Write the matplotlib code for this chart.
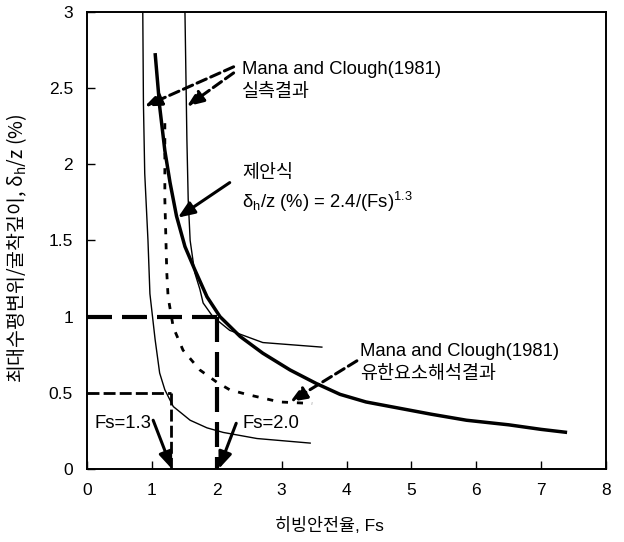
import matplotlib
matplotlib.use("Agg")
import matplotlib.pyplot as plt

plt.rcParams['font.family'] = ['Liberation Sans', 'Noto Sans CJK KR']
plt.rcParams['mathtext.default'] = 'regular'

# proposed relation, thick solid curve
fs_prop = [1.05, 1.12, 1.20, 1.28, 1.38, 1.51, 1.66, 1.85, 2.05, 2.36, 2.71,
           3.13, 3.54, 3.90, 4.30, 4.80, 5.30, 5.85, 6.50, 7.00, 7.40]
dh_prop = [2.73, 2.38, 2.09, 1.88, 1.66, 1.46, 1.31, 1.13, 1.00, 0.87, 0.76,
           0.65, 0.56, 0.49, 0.44, 0.40, 0.36, 0.32, 0.29, 0.26, 0.24]

# measured envelope (Mana and Clough 1981), lower and upper bound
fs_meas_lo = [0.86, 0.87, 0.89, 0.94, 0.97, 1.05, 1.12, 1.20, 1.33, 1.59,
              1.85, 2.10, 2.62, 3.44]
dh_meas_lo = [3.00, 2.40, 1.94, 1.50, 1.15, 0.85, 0.63, 0.52, 0.41, 0.32,
              0.27, 0.24, 0.20, 0.17]
fs_meas_hi = [1.51, 1.54, 1.56, 1.59, 1.66, 1.74, 1.79, 1.94, 2.20, 2.71, 3.62]
dh_meas_hi = [3.00, 2.16, 1.77, 1.50, 1.29, 1.18, 1.09, 1.00, 0.91, 0.83, 0.80]

# finite element result (Mana and Clough 1981)
fs_fem = [1.20, 1.20, 1.23, 1.25, 1.33, 1.48, 1.74, 2.00, 2.20, 2.46, 2.97, 3.47]
dh_fem = [2.27, 1.77, 1.29, 1.13, 0.93, 0.78, 0.65, 0.57, 0.52, 0.49, 0.44, 0.43]

# reference lines
fs_a, dh_a = 1.3, 0.5
fs_b, dh_b = 2.0, 1.0

x_ticks = [0, 1, 2, 3, 4, 5, 6, 7, 8]
y_ticks = [0, 0.5, 1, 1.5, 2, 2.5, 3]
y_tick_labels = ['0', '0.5', '1', '1.5', '2', '2.5', '3']

fig = plt.figure(figsize=(6.24, 5.42), dpi=100)
ax = fig.add_axes([0.1394, 0.1347, 0.8318, 0.8432])

ax.plot(fs_meas_lo, dh_meas_lo, color='black', lw=1.0)
ax.plot(fs_meas_hi, dh_meas_hi, color='black', lw=1.0)
ax.plot(fs_fem, dh_fem, color='black', lw=2.0, ls=(0, (2.2, 3.2)))
ax.plot(fs_prop, dh_prop, color='black', lw=2.5, solid_capstyle='butt',
        solid_joinstyle='round')

ax.plot([0, fs_b], [dh_b, dh_b], color='black', lw=3.0, ls=(0, (6, 2.4)))
ax.plot([fs_b, fs_b], [dh_b, 0], color='black', lw=3.0, ls=(0, (6, 2.4)))
ax.plot([0, fs_a], [dh_a, dh_a], color='black', lw=2.0, ls=(0, (4.3, 1.5)))
ax.plot([fs_a, fs_a], [dh_a, 0], color='black', lw=2.0, ls=(0, (4.3, 1.5)))

solid_arrow = dict(arrowstyle='-|>,head_length=0.5,head_width=0.2',
                   color='black', lw=2.2, mutation_scale=20,
                   shrinkA=0, shrinkB=0)
dashed_arrow = dict(solid_arrow, ls=(0, (3.3, 1.6)))

ax.annotate('', xy=(0.89, 2.38), xytext=(2.26, 2.64), arrowprops=dashed_arrow)
ax.annotate('', xy=(1.54, 2.38), xytext=(2.26, 2.60), arrowprops=dashed_arrow)
ax.annotate('', xy=(1.40, 1.65), xytext=(2.20, 1.88), arrowprops=solid_arrow)
ax.annotate('', xy=(3.13, 0.44), xytext=(4.16, 0.71), arrowprops=dashed_arrow)
ax.annotate('', xy=(1.31, 0.0), xytext=(1.02, 0.32), arrowprops=solid_arrow)
ax.annotate('', xy=(2.03, 0.0), xytext=(2.30, 0.30), arrowprops=solid_arrow)

fsz = 13.3
ax.text(2.39, 2.62, 'Mana and Clough(1981)', fontsize=fsz, va='center')
ax.text(2.39, 2.47, '실측결과', fontsize=fsz, va='center')
ax.text(2.39, 1.94, '제안식', fontsize=fsz, va='center')
ax.text(2.39, 1.75, r'$\delta_h$/z (%) = 2.4/(Fs)$^{1.3}$', fontsize=fsz, va='center')
ax.text(4.21, 0.77, 'Mana and Clough(1981)', fontsize=fsz, va='center')
ax.text(4.21, 0.62, '유한요소해석결과', fontsize=fsz, va='center')
ax.text(0.12, 0.30, 'Fs=1.3', fontsize=fsz, va='center')
ax.text(2.40, 0.30, 'Fs=2.0', fontsize=fsz, va='center')

ax.set_xlim(0, 8)
ax.set_ylim(0, 3)
ax.set_xticks(x_ticks)
ax.set_yticks(y_ticks)
ax.set_yticklabels(y_tick_labels)
ax.tick_params(direction='in', length=6, width=1, labelsize=12.5, pad=10)
for side in ['top', 'right', 'bottom', 'left']:
    ax.spines[side].set_linewidth(1.4)

ax.set_xlabel('히빙안전율, Fs', fontsize=12.5)
ax.xaxis.set_label_coords(0.468, -0.105)
ax.set_ylabel(r'최대수평변위/굴착깊이, $\delta_h$/z (%)', fontsize=14,
              family='Noto Sans CJK KR')
ax.yaxis.set_label_coords(-0.112, 0.484)

fig.savefig('out.png', dpi=100)
